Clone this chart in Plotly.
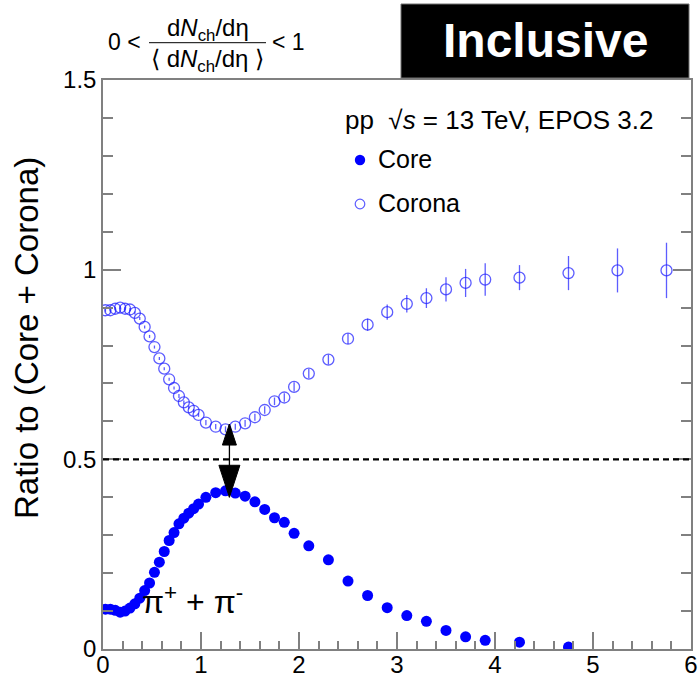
import plotly.graph_objects as go

# ---------------- data ----------------
corona_x = [0.025, 0.075, 0.125, 0.175, 0.225, 0.275, 0.325, 0.375, 0.425, 0.475,
            0.525, 0.575, 0.625, 0.675, 0.725, 0.775, 0.825, 0.875, 0.925, 0.975,
            1.05, 1.15, 1.25, 1.35, 1.45, 1.55, 1.65, 1.75, 1.85, 1.95,
            2.1, 2.3, 2.5, 2.7, 2.9, 3.1, 3.3, 3.5, 3.7, 3.9,
            4.25, 4.75, 5.25, 5.75]
corona_y = [0.893, 0.893, 0.897, 0.900, 0.897, 0.895, 0.886, 0.871, 0.849, 0.824,
            0.796, 0.766, 0.739, 0.711, 0.688, 0.667, 0.650, 0.637, 0.628, 0.617,
            0.597, 0.586, 0.579, 0.586, 0.595, 0.611, 0.630, 0.653, 0.663, 0.691,
            0.726, 0.763, 0.818, 0.855, 0.888, 0.910, 0.925, 0.948, 0.965, 0.974,
            0.979, 0.991, 0.998, 0.998]
corona_err = [0.004, 0.004, 0.004, 0.004, 0.004, 0.004, 0.004, 0.004, 0.004, 0.004,
              0.004, 0.004, 0.004, 0.004, 0.004, 0.005, 0.005, 0.005, 0.005, 0.005,
              0.007, 0.007, 0.008, 0.008, 0.009, 0.009, 0.010, 0.010, 0.011, 0.012,
              0.012, 0.013, 0.014, 0.016, 0.020, 0.023, 0.026, 0.032, 0.037, 0.043,
              0.033, 0.045, 0.058, 0.073]

core_x = [0.025, 0.075, 0.125, 0.175, 0.225, 0.275, 0.325, 0.375, 0.425, 0.475,
          0.525, 0.575, 0.625, 0.675, 0.725, 0.775, 0.825, 0.875, 0.925, 0.975,
          1.05, 1.15, 1.25, 1.35, 1.45, 1.55, 1.65, 1.75, 1.85, 1.95,
          2.1, 2.3, 2.5, 2.7, 2.9, 3.1, 3.3, 3.5, 3.7, 3.9,
          4.25, 4.75]
core_y = [0.105, 0.105, 0.102, 0.097, 0.100, 0.108, 0.119, 0.134, 0.154, 0.174,
          0.202, 0.229, 0.257, 0.286, 0.307, 0.330, 0.345, 0.358, 0.370, 0.382,
          0.400, 0.412, 0.417, 0.411, 0.403, 0.388, 0.368, 0.346, 0.334, 0.305,
          0.272, 0.235, 0.179, 0.141, 0.109, 0.088, 0.073, 0.049, 0.032, 0.023,
          0.018, 0.005]

x_range = [0, 6]
y_range = [0, 1.5]
y_ticks = [0, 0.5, 1, 1.5]
half_line = 0.5
arrow_x = 1.29
arrow_down_tip = 0.40
arrow_up_tip = 0.593

# ---------------- layout helpers ----------------
W, H = 700, 680
L, R, T, B = 103, 9, 80, 31
PW, PH = W - L - R, H - T - B
FONT = "Liberation Sans"
CORONA_C = "rgba(30,30,255,0.72)"
CORE_C = "#0000ff"
AX_C = "#808080"


def pxx(px):
    return (px - L) / PW


def pxy(py):
    return (H - B - py) / PH


fig = go.Figure()
fig.add_trace(go.Scatter(
    x=corona_x, y=corona_y, mode="markers",
    marker=dict(symbol="circle-open", size=11, color=CORONA_C, line=dict(width=1.3, color=CORONA_C)),
    error_y=dict(type="data", array=corona_err, color=CORONA_C, thickness=1.3, width=0),
    name="Corona", showlegend=False))
fig.add_trace(go.Scatter(
    x=core_x, y=core_y, mode="markers",
    marker=dict(symbol="circle", size=11, color=CORE_C, line=dict(width=0)),
    name="Core", showlegend=False))

shapes = []
# dashed line at 0.5
shapes.append(dict(type="line", xref="x", yref="y", x0=x_range[0], x1=x_range[1],
                   y0=half_line, y1=half_line, line=dict(color="black", width=2.2, dash="6px,4px")))
# arrow shaft
shapes.append(dict(type="line", xref="x", yref="y", x0=arrow_x, x1=arrow_x,
                   y0=arrow_down_tip, y1=arrow_up_tip, line=dict(color="black", width=1.3)))
# arrow heads (sizes in pixels converted to data units)
ux = (x_range[1] - x_range[0]) / PW
uy = (y_range[1] - y_range[0]) / PH
dh_w, dh_l = 10.5 * ux, 32 * uy
uh_w, uh_l = 7 * ux, 21 * uy
shapes.append(dict(type="path", xref="x", yref="y",
                   path=f"M {arrow_x - dh_w},{arrow_down_tip + dh_l} L {arrow_x + dh_w},{arrow_down_tip + dh_l} L {arrow_x},{arrow_down_tip} Z",
                   fillcolor="black", line=dict(color="black", width=1)))
shapes.append(dict(type="path", xref="x", yref="y",
                   path=f"M {arrow_x - uh_w},{arrow_up_tip - uh_l} L {arrow_x + uh_w},{arrow_up_tip - uh_l} L {arrow_x},{arrow_up_tip} Z",
                   fillcolor="black", line=dict(color="black", width=1)))
# Inclusive box
shapes.append(dict(type="rect", xref="paper", yref="paper", x0=pxx(401), x1=pxx(689),
                   y0=pxy(78), y1=pxy(4), fillcolor="black", line=dict(color="#707070", width=1)))
# fraction bar
shapes.append(dict(type="line", xref="paper", yref="paper", x0=pxx(149), x1=pxx(266),
                   y0=pxy(42.7), y1=pxy(42.7), line=dict(color="black", width=1)))
# legend markers
shapes.append(dict(type="circle", xref="paper", yref="paper", xsizemode="pixel", ysizemode="pixel",
                   xanchor=pxx(360), yanchor=pxy(160), x0=-5.2, x1=5.2, y0=-5.2, y1=5.2,
                   fillcolor=CORE_C, line=dict(color=CORE_C, width=0)))
shapes.append(dict(type="circle", xref="paper", yref="paper", xsizemode="pixel", ysizemode="pixel",
                   xanchor=pxx(360), yanchor=pxy(204), x0=-4.8, x1=4.8, y0=-4.8, y1=4.8,
                   fillcolor="rgba(0,0,0,0)", line=dict(color=CORONA_C, width=1.2)))


def ann(text, x, y, size, xanchor="center", color="black", angle=0):
    return dict(text=text, x=pxx(x), y=pxy(y), xref="paper", yref="paper", showarrow=False,
                xanchor=xanchor, yanchor="middle", textangle=angle,
                font=dict(family=FONT, size=size, color=color))


annotations = [
    ann("<b>Inclusive</b>", 545, 41, 48, color="white"),
    ann("0 <", 124.5, 42, 23),
    ann("d<i>N</i><sub>ch</sub>/dη", 207.5, 29, 24),
    ann("⟨ d<i>N</i><sub>ch</sub>/dη ⟩", 207.5, 60, 24),
    ann("< 1", 288, 42, 23),
    ann("pp  √<i>s</i> = 13 TeV, EPOS 3.2", 343, 120, 26, xanchor="left"),
    ann("Core", 376, 159, 25, xanchor="left"),
    ann("Corona", 376, 203, 25, xanchor="left"),
    ann("π<sup>+</sup> + π<sup>-</sup>", 192, 600, 32),
    ann("Ratio to (Core + Corona)", 27, 338, 33, angle=-90),
]

tickfont = dict(family=FONT, size=24, color="black")
fig.update_layout(
    width=W, height=H, margin=dict(l=L, r=R, t=T, b=B, autoexpand=False),
    paper_bgcolor="white", plot_bgcolor="white",
    shapes=shapes, annotations=annotations, showlegend=False,
    xaxis=dict(range=x_range, showgrid=False, zeroline=False, showline=True, linecolor=AX_C,
               linewidth=1.5, mirror=True, ticks="inside", ticklen=17, tickwidth=1.5, tickcolor=AX_C,
               tick0=0, dtick=1, tickfont=tickfont, automargin=False, ticklabelstandoff=-7,
               minor=dict(ticks="inside", ticklen=8, dtick=0.2, tickwidth=1.5, tickcolor=AX_C, showgrid=False)),
    yaxis=dict(range=y_range, showgrid=False, zeroline=False, showline=True, linecolor=AX_C,
               linewidth=1.5, mirror="ticks", ticks="inside", ticklen=18, tickwidth=1.5, tickcolor=AX_C,
               tickvals=y_ticks, tickfont=tickfont, automargin=False,
               minor=dict(ticks="inside", ticklen=10, dtick=0.1, tickwidth=1.5, tickcolor=AX_C, showgrid=False)),
)

fig.write_html("out.html")
